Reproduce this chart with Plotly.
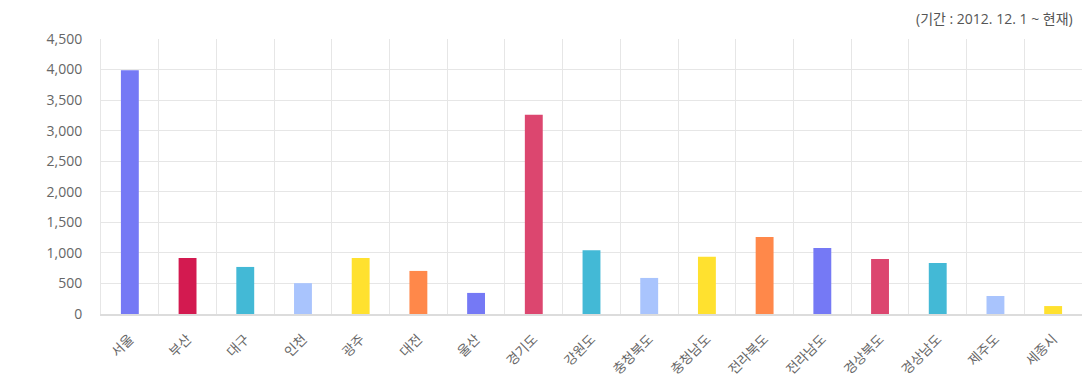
import plotly.graph_objects as go

regions = ["서울", "부산", "대구", "인천", "광주", "대전", "울산", "경기도", "강원도",
           "충청북도", "충청남도", "전라북도", "전라남도", "경상북도", "경상남도", "제주도", "세종시"]
values = [3990, 915, 770, 505, 915, 705, 345, 3260, 1045, 590, 935, 1260, 1080, 900, 835, 295, 130]
colors = ["#7579F5", "#D31A50", "#43B9D6", "#A9C4FD", "#FFE12F", "#FF884A", "#7579F5",
          "#DC466F", "#43B9D6", "#A9C4FD", "#FFE12F", "#FF884A", "#7579F5", "#DC466F",
          "#43B9D6", "#A9C4FD", "#FFE12F"]
y_ticks = [0, 500, 1000, 1500, 2000, 2500, 3000, 3500, 4000, 4500]

font_family = "Open Sans, Noto Sans CJK KR, sans-serif"

fig = go.Figure(go.Bar(
    x=regions, y=values, marker=dict(color=colors, line=dict(width=0)), width=0.31,
))

fig.update_layout(
    width=1083, height=380,
    margin=dict(l=101, r=1, t=39, b=66),
    plot_bgcolor="white", paper_bgcolor="white",
    font=dict(family=font_family, size=13, color="#666"),
    showlegend=False,
    xaxis=dict(
        type="category", tickson="boundaries", showgrid=True, gridcolor="#e6e6e6", gridwidth=1,
        tickangle=-45, ticks="", showline=True, linecolor="#dcdcdc", linewidth=2,
        tickfont=dict(size=13.5, color="#666"), range=[-0.5, 16.5], ticklabelstandoff=10,
        automargin=False,
    ),
    yaxis=dict(
        range=[0, 4500], tickvals=y_ticks, ticktext=[f"{v:,}" for v in y_ticks],
        showgrid=True, gridcolor="#e6e6e6", gridwidth=1, zeroline=False,
        ticks="", ticklabelstandoff=15, tickfont=dict(size=14, color="#666"),
        showline=True, linecolor="#e6e6e6", linewidth=1, automargin=False,
    ),
    annotations=[dict(
        text="(기간 : 2012. 12. 1 ~ 현재)", xref="paper", yref="paper",
        x=1.0, y=1.0, xanchor="right", yanchor="bottom", yshift=9, xshift=-7,
        showarrow=False, font=dict(size=14, color="#555"),
    )],
)

fig.write_html("out.html")
